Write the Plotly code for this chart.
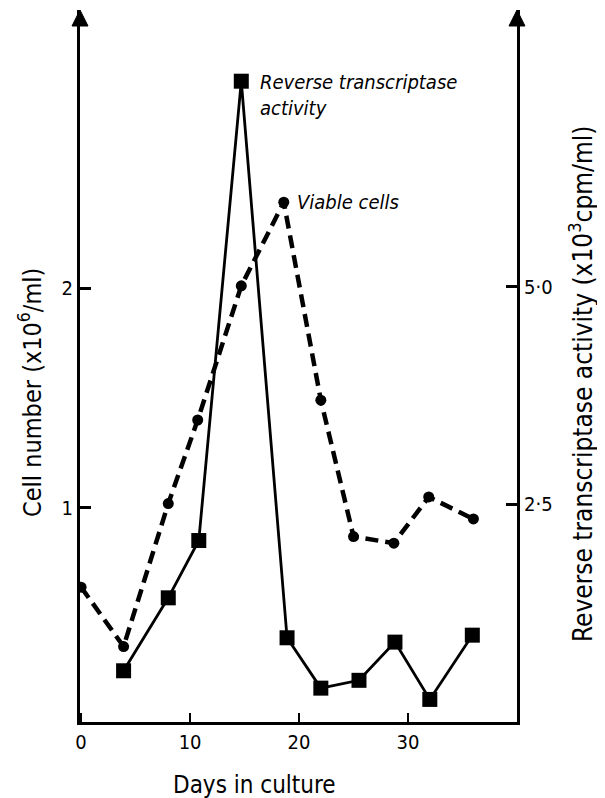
import plotly.graph_objects as go

# Viable cells (x10^6/ml) - left axis
cell_days = [0, 3.9, 8, 10.7, 14.7, 18.6, 22, 25, 28.7, 31.9, 36]
cell_values = [0.64, 0.37, 1.02, 1.40, 2.01, 2.39, 1.49, 0.87, 0.84, 1.05, 0.95]

# Reverse transcriptase activity (x10^3 cpm/ml) - right axis
rt_days = [3.9, 8, 10.8, 14.7, 18.9, 22, 25.5, 28.8, 32, 35.9]
rt_values = [0.58, 1.42, 2.08, 7.37, 0.96, 0.38, 0.47, 0.91, 0.25, 0.99]

x_ticks = [0, 10, 20, 30]
left_ticks = [1, 2]
right_ticks = [2.5, 5.0]
right_ticktext = ["2·5", "5·0"]

FONT = "DejaVu Sans Condensed, DejaVu Sans, sans-serif"

def f(size):
    return dict(size=size, family=FONT, color="black")

fig = go.Figure()
fig.add_trace(go.Scatter(
    x=cell_days, y=cell_values, mode="lines+markers", name="Viable cells",
    line=dict(color="black", width=4.5, dash="13px,7px"),
    marker=dict(symbol="circle", size=11, color="black"),
    yaxis="y"))
fig.add_trace(go.Scatter(
    x=rt_days, y=rt_values, mode="lines+markers", name="Reverse transcriptase activity",
    line=dict(color="black", width=2.8),
    marker=dict(symbol="square", size=15, color="black"),
    yaxis="y2"))

# page has an 8px body margin: figure is 597x790 placed at (8, 8)
fig.update_layout(
    width=597, height=790,
    margin=dict(l=72, r=88, t=2, b=76),
    paper_bgcolor="white", plot_bgcolor="white",
    showlegend=False,
    font=f(20),
    xaxis=dict(range=[-0.1, 40], tickvals=x_ticks, ticktext=[str(v) for v in x_ticks],
               showline=True, linewidth=2.5, linecolor="black", showgrid=False, zeroline=False,
               ticks="inside", ticklen=9, tickwidth=2, tickcolor="black",
               tickfont=f(20), fixedrange=True),
    yaxis=dict(range=[0.027, 3.264], tickvals=left_ticks, ticktext=[str(v) for v in left_ticks],
               showline=True, linewidth=3, linecolor="black", showgrid=False, zeroline=False,
               ticks="inside", ticklen=11, tickwidth=2.5, tickcolor="black",
               tickfont=f(20)),
    yaxis2=dict(range=[-0.01, 8.19], overlaying="y", side="right",
                tickvals=right_ticks, ticktext=right_ticktext,
                showline=True, linewidth=3, linecolor="black", showgrid=False, zeroline=False,
                ticks="inside", ticklen=11, tickwidth=2.5, tickcolor="black",
                tickfont=f(20)),
)

# x-axis title
fig.add_annotation(text="Days in culture", xref="paper", yref="paper",
                   x=0.4, y=-63 / 712, xanchor="center", yanchor="middle",
                   showarrow=False, font=f(24))
# y-axis titles
fig.add_annotation(text="Cell number (x10<sup>6</sup>/ml)", xref="paper", yref="paper",
                   x=-50 / 437, y=(722 - 393) / 712, xanchor="center", yanchor="middle",
                   textangle=-90, showarrow=False, font=f(25))
fig.add_annotation(text="Reverse transcriptase activity (x10<sup>3</sup>cpm/ml)", xref="paper", yref="paper",
                   x=1 + 64 / 437, y=(722 - 384) / 712, xanchor="center", yanchor="middle",
                   textangle=-90, showarrow=False, font=f(26))

# series labels
fig.add_annotation(text="<i>Reverse transcriptase<br>activity</i>", x=16.2, y=3.0,
                   xref="x", yref="y", xanchor="left", yanchor="top", align="left",
                   showarrow=False, font=f(20))
fig.add_annotation(text="<i>Viable cells</i>", x=19.6, y=2.39,
                   xref="x", yref="y", xanchor="left", yanchor="middle", align="left",
                   showarrow=False, font=f(20))

# arrowheads on top of both vertical axes
for xa in [0, 1]:
    fig.add_shape(type="path", xref="paper", yref="paper",
                  xsizemode="pixel", ysizemode="pixel", xanchor=xa, yanchor=1,
                  path="M -8,-16 L 8,-16 L 0,0 Z",
                  fillcolor="black", line=dict(color="black", width=1))

fig.write_html("out.html")
